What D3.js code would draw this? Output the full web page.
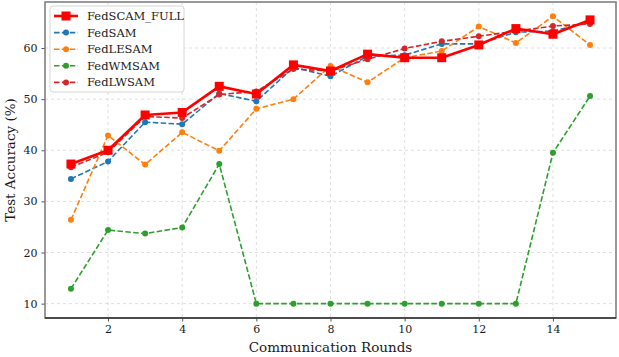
<!DOCTYPE html>
<html><head><meta charset="utf-8">
<script src="https://cdn.jsdelivr.net/npm/d3@7"></script>
<style>body{margin:0;background:#fff;}svg{display:block;}</style>
</head><body>
<svg id="c" width="619" height="357"></svg>
<script>
const rounds = [1,2,3,4,5,6,7,8,9,10,11,12,13,14,15];
const fedSCAM = [37.3,40.0,46.9,47.4,52.5,51.0,56.7,55.5,58.8,58.1,58.1,60.6,63.8,62.7,65.5];
const fedSAM = [34.4,37.8,45.5,45.1,51.1,49.6,56.2,54.5,58.4,58.6,60.8,60.8,63.1,63.3,65.1];
const fedLESAM = [26.4,42.9,37.2,43.5,39.9,48.1,50.0,56.5,53.3,58.1,59.4,64.2,61.0,66.2,60.6];
const fedWMSAM = [12.9,24.4,23.7,24.9,37.3,10,10,10,10,10,10,10,10,39.5,50.6];
const fedLWSAM = [36.7,39.6,46.6,46.3,50.9,51.5,55.9,55.5,57.8,59.9,61.3,62.3,63.3,64.3,64.7];
const seriesNames = ["FedSCAM_FULL","FedSAM","FedLESAM","FedWMSAM","FedLWSAM"];
const seriesColors = ["#ff0000","#1f77b4","#ff7f0e","#2ca02c","#d62728"];
const xTicks = [2,4,6,8,10,12,14];
const yTicks = [10,20,30,40,50,60];

const series = [fedSCAM, fedSAM, fedLESAM, fedWMSAM, fedLWSAM];
const svg = d3.select("#c");
const L=45, R=616, T=2, B=318;
const font = "DejaVu Serif, serif";
const x = d3.scaleLinear().domain([0.3,15.7]).range([L,R]);
const y = d3.scaleLinear().domain([7.19,69.0]).range([B,T]);

// grid
const g = svg.append("g");
g.selectAll(".gx").data(xTicks).enter().append("line")
 .attr("x1",d=>x(d)).attr("x2",d=>x(d)).attr("y1",T).attr("y2",B)
 .attr("stroke","#b0b0b0").attr("stroke-opacity",0.5).attr("stroke-width",0.8).attr("stroke-dasharray","3,3");
g.selectAll(".gy").data(yTicks).enter().append("line")
 .attr("y1",d=>y(d)).attr("y2",d=>y(d)).attr("x1",L).attr("x2",R)
 .attr("stroke","#b0b0b0").attr("stroke-opacity",0.5).attr("stroke-width",0.8).attr("stroke-dasharray","3,3");

// axes
const xa = svg.append("g").attr("transform",`translate(0,${B})`)
 .call(d3.axisBottom(x).tickValues(xTicks).tickSize(3.5).tickPadding(4).tickFormat(d3.format("d")));
const ya = svg.append("g").attr("transform",`translate(${L},0)`)
 .call(d3.axisLeft(y).tickValues(yTicks).tickSize(3.5).tickPadding(4).tickFormat(d3.format("d")));
[xa,ya].forEach(a=>{a.select(".domain").remove();
 a.selectAll("text").attr("font-family",font).attr("font-size",11).attr("fill","#1a1a1a");
 a.selectAll("line").attr("stroke","#555");});

// spines
svg.append("rect").attr("x",L).attr("y",T).attr("width",R-L).attr("height",B-T)
 .attr("fill","none").attr("stroke","#808080").attr("stroke-width",1.6);
svg.append("line").attr("x1",L).attr("x2",R).attr("y1",B).attr("y2",B).attr("stroke","#000").attr("stroke-width",1.2);

// lines
const line = d3.line().x((d,i)=>x(rounds[i])).y(d=>y(d));
const order = [1,2,3,4,0];
order.forEach(k=>{
  const data = series[k], col = seriesColors[k];
  if(k===0){
    svg.append("path").attr("d",line(data)).attr("fill","none").attr("stroke",col).attr("stroke-width",2.6).attr("stroke-linejoin","round");
    svg.selectAll(".m0").data(data).enter().append("rect")
      .attr("x",(d,i)=>x(rounds[i])-4.5).attr("y",d=>y(d)-4.5).attr("width",9).attr("height",9).attr("fill",col);
  } else {
    svg.append("path").attr("d",line(data)).attr("fill","none").attr("stroke",col).attr("stroke-width",1.6).attr("stroke-dasharray","5.5,2.4");
    svg.selectAll(".m"+k).data(data).enter().append("circle")
      .attr("cx",(d,i)=>x(rounds[i])).attr("cy",d=>y(d)).attr("r",3).attr("fill",col);
  }
});

// legend
const lg = svg.append("g");
lg.append("rect").attr("x",50).attr("y",6).attr("width",134).attr("height",86).attr("rx",3)
 .attr("fill","#fff").attr("fill-opacity",0.85).attr("stroke","#ccc").attr("stroke-width",0.8);
seriesNames.forEach((n,i)=>{
  const yy = 16 + i*16.6, col = seriesColors[i];
  if(i===0){
    lg.append("line").attr("x1",54).attr("x2",78).attr("y1",yy).attr("y2",yy).attr("stroke",col).attr("stroke-width",2.6);
    lg.append("rect").attr("x",66-4.5).attr("y",yy-4.5).attr("width",9).attr("height",9).attr("fill",col);
  } else {
    lg.append("line").attr("x1",54).attr("x2",78).attr("y1",yy).attr("y2",yy).attr("stroke",col).attr("stroke-width",1.6).attr("stroke-dasharray","5.5,2.4");
    lg.append("circle").attr("cx",66).attr("cy",yy).attr("r",3).attr("fill",col);
  }
  lg.append("text").attr("x",87).attr("y",yy).attr("dy","0.35em").attr("font-family",font).attr("font-size",11.5).attr("fill","#1a1a1a").text(n);
});

// axis labels
svg.append("text").attr("x",(L+R)/2).attr("y",352).attr("text-anchor","middle").attr("font-family",font).attr("font-size",13.5).attr("fill","#1a1a1a").text("Communication Rounds");
svg.append("text").attr("transform",`translate(15,${(T+B)/2}) rotate(-90)`).attr("text-anchor","middle").attr("font-family",font).attr("font-size",13.5).attr("fill","#1a1a1a").text("Test Accuracy (%)");
</script>
</body></html>
